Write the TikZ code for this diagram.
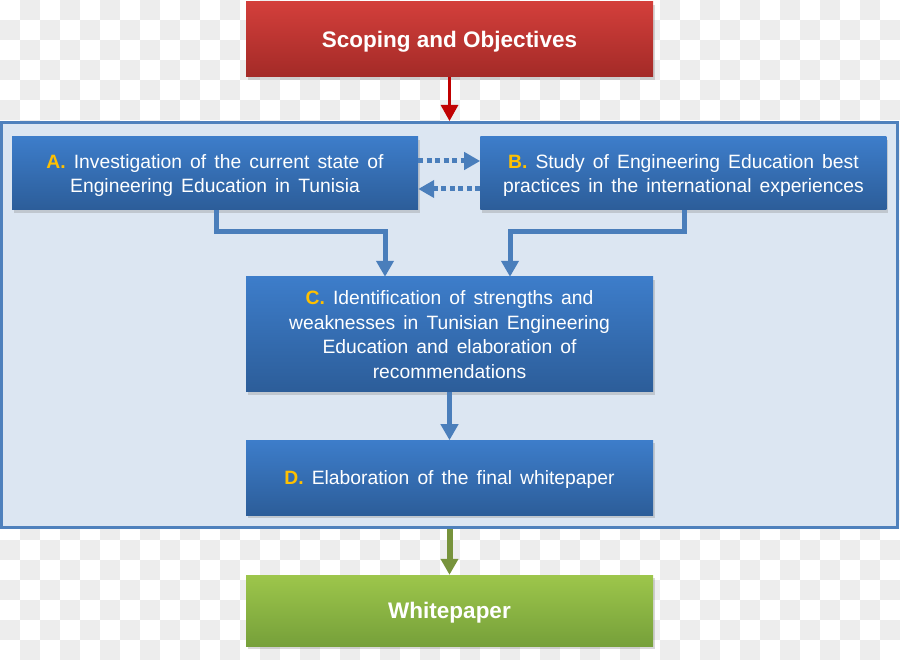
\documentclass[tikz,border=0pt]{standalone}
\usepackage{xcolor}
\usepackage{fontspec}
\setmainfont{Liberation Sans}
\usepackage{tikz}
\usetikzlibrary{positioning,arrows.meta,shadows,calc}

\definecolor{checkgrey}{HTML}{EDEDED}
\definecolor{phasefill}{HTML}{DCE6F2}
\definecolor{phaseline}{HTML}{4F81BD}
\definecolor{bluetop}{HTML}{3D7DCA}
\definecolor{bluebot}{HTML}{2C5D99}
\definecolor{redtop}{HTML}{D33F3B}
\definecolor{redbot}{HTML}{A32A27}
\definecolor{greentop}{HTML}{9DC64B}
\definecolor{greenbot}{HTML}{76A03A}
\definecolor{linkblue}{HTML}{4A7EBB}
\definecolor{linkred}{HTML}{C00000}
\definecolor{linkgreen}{HTML}{77933C}
\definecolor{gold}{HTML}{FFC000}

\newcommand{\tag}[1]{\textcolor{gold}{\bfseries #1}}

\begin{document}
\begin{tikzpicture}[
  x=1pt, y=-1pt,
  box/.style={minimum width=406pt, minimum height=73pt, inner sep=4pt, text depth=0pt,
              align=center, text=white, top color=bluetop, bottom color=bluebot,
              font={\fontsize{19.3}{24.5}\selectfont\spaceskip=0.42em\relax},
              drop shadow={shadow xshift=2pt, shadow yshift=-3pt, opacity=0.3}},
  headbox/.style={box, minimum height=75pt, top color=redtop, bottom color=redbot,
                  font=\fontsize{22.5}{26}\selectfont\bfseries},
  endbox/.style={headbox, minimum height=71pt, top color=greentop, bottom color=greenbot},
  phase/.style={draw=phaseline, line width=3pt, fill=phasefill,
                minimum width=896pt, minimum height=405pt, inner sep=0pt},
  flow/.style={-{Triangle[length=16pt, width=17pt]}, line width=5pt, draw=linkblue},
  dotflow/.style={flow, line width=5pt, dash pattern=on 5pt off 3.5pt},
  redarrow/.style={flow, line width=3pt, draw=linkred},
  greenarrow/.style={flow, line width=6pt, draw=linkgreen}
]
  \useasboundingbox (0,0) rectangle (900,660);
  % checkerboard backdrop
  \foreach \i in {0,...,44}{
    \foreach \j in {0,...,32}{
      \pgfmathtruncatemacro\odd{mod(\i+\j,2)}
      \ifnum\odd=1 \fill[checkgrey] (20*\i,20*\j) rectangle ++(20,20); \fi
    }
  }

  \node[phase] (ph) at (449.5,325) {};
  \node[headbox, minimum width=407pt] (scope) at (449.5,39.5) {Scoping and Objectives};
  \node[box] (A) at (215,173.5) {\tag{A.} Investigation of the current state of\\Engineering Education in Tunisia};
  \node[box, right=62pt of A] (B) {\tag{B.} Study of Engineering Education best\\practices in the international experiences};
  \node[box, minimum width=407pt, minimum height=115pt] (C) at (449.5,334.5) {\tag{C.} Identification of strengths and\\weaknesses in Tunisian Engineering\\Education and elaboration of\\recommendations};
  \node[box, minimum width=407pt, minimum height=75pt, below=48pt of C] (D) {\tag{D.} Elaboration of the final whitepaper};
  \node[endbox, minimum width=407pt] (white) at (449.5,610.5) {Whitepaper};

  \draw[redarrow] (scope) -- (ph);
  \draw[dotflow] ([yshift=12.5pt]A.east) -- ([yshift=12.5pt]B.west);
  \draw[dotflow] ([yshift=-15.5pt]B.west) -- ([yshift=-15.5pt]A.east);
  \draw[flow] ([xshift=1pt]A.south) -- ++(0,21) -| ([xshift=-64.5pt]C.north);
  \draw[flow] ([xshift=1pt]B.south) -- ++(0,21) -| ([xshift=60.5pt]C.north);
  \draw[flow] (C) -- (D);
  \draw[greenarrow] (ph) -- (white);
\end{tikzpicture}
\end{document}
